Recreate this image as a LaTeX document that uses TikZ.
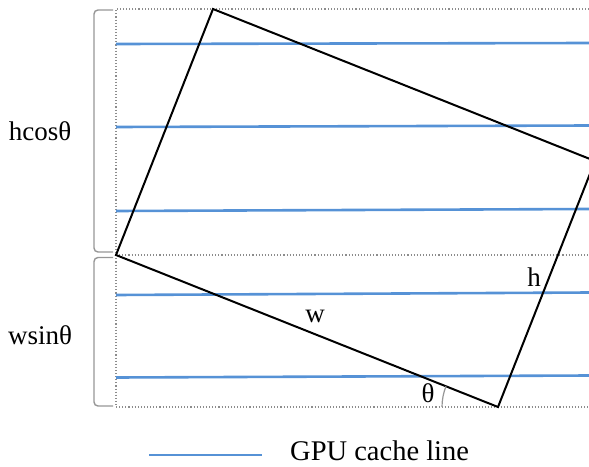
\documentclass[tikz,border=0pt]{standalone}
\usepackage{fontspec}
\setmainfont{Liberation Serif}
\definecolor{cacheblue}{RGB}{86,146,214}
\definecolor{guidegray}{RGB}{140,140,140}
\definecolor{bracegray}{RGB}{150,150,150}
\begin{document}
\begin{tikzpicture}[x=1pt,y=-1pt,
  cacheline/.style={draw=cacheblue,line width=2.6pt},
  guide/.style={draw=guidegray,line width=1.1pt,dotted},
  rectedge/.style={draw=black,line width=2pt,line join=miter},
  bracket/.style={draw=bracegray,line width=1.4pt,rounded corners=4pt},
  lbl/.style={inner sep=0pt,font=\fontsize{27}{31}\selectfont},
]
\useasboundingbox (0,0) rectangle (589,466);
\clip (0,0) rectangle (589,466);
% guide box
\coordinate (G1) at (116,9);
\coordinate (G2) at (589,9);
\coordinate (G3) at (116,407);
\coordinate (G4) at (589,407);
\coordinate (G5) at (116,255);
\coordinate (G6) at (589,255);
\draw[guide] (G2) -- (G1) -- (G3) -- (G4);
\draw[guide] (G5) -- (G6);
% cache lines
\foreach \i/\ya/\yb in {1/44/43, 2/127/125.5, 3/211/209, 4/295/292.5, 5/377.5/375.5}{
  \coordinate (c\i a) at (116,\ya);
  \coordinate (c\i b) at (589,\yb);
  \draw[cacheline] (c\i a) -- (c\i b);
}
% rotated rectangle
\coordinate (L) at (116,255);
\coordinate (T) at (213,9);
\coordinate (R) at (595,161);
\coordinate (B) at (498,407);
\draw[rectedge] (L) -- (T) -- (R) -- (B) -- cycle;
% angle arc
\draw[draw=bracegray,line width=1.2pt] (B) ++(-56pt,0pt) arc[start angle=180,end angle=158.3,radius=56pt];
% brackets
\coordinate (b1) at (113,10);
\coordinate (b2) at (94,10);
\coordinate (b3) at (94,252);
\coordinate (b4) at (113,252);
\draw[bracket] (b1) -- (b2) -- (b3) -- (b4);
\coordinate (b5) at (113,257.5);
\coordinate (b6) at (94,257.5);
\coordinate (b7) at (94,406);
\coordinate (b8) at (113,406);
\draw[bracket] (b5) -- (b6) -- (b7) -- (b8);
% labels
\node[lbl] (hcos) at (40,131) {hcosθ};
\node[lbl] (wsin) at (40,335) {wsinθ};
\node[lbl] (wl) at (315,316) {w};
\node[lbl] (hl) at (534,277) {h};
\node[lbl] (th) at (428,393) {θ};
% legend
\coordinate (lg1) at (149,455);
\coordinate (lg2) at (262,455);
\draw[cacheline] (lg1) -- (lg2);
\node[lbl,anchor=base west,font=\fontsize{28.5}{33}\selectfont] (legend) at (290,460) {GPU cache line};
\end{tikzpicture}
\end{document}
